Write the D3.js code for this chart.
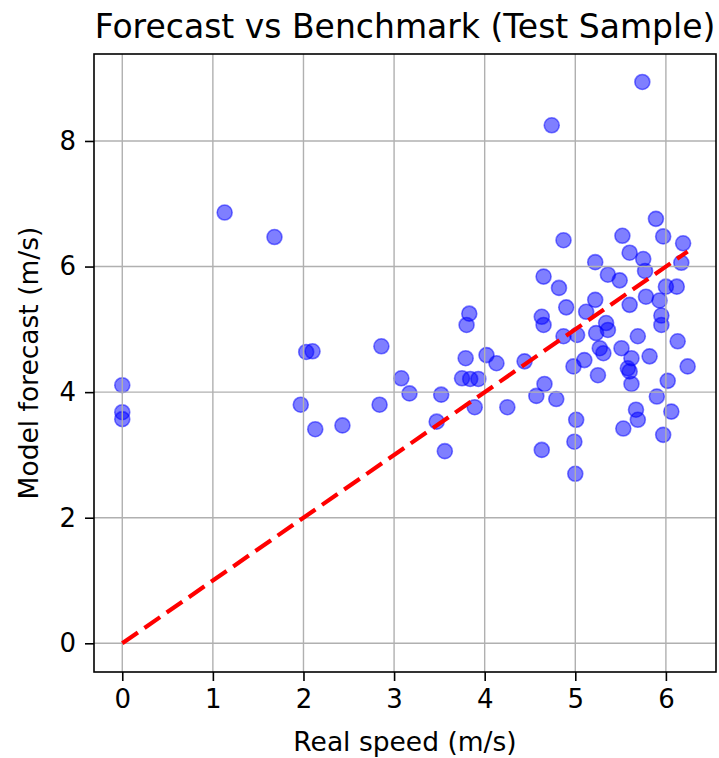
<!DOCTYPE html>
<html>
<head>
<meta charset="utf-8">
<script src="https://cdn.jsdelivr.net/npm/d3@7"></script>
<style>
  body { margin: 0; background: #fff; }
  text { font-family: "DejaVu Sans", sans-serif; fill: #000; }
</style>
</head>
<body>
<div id="chart"></div>
<script>
// values
const realSpeed = [
  0, 0, 0, 1.13, 1.68,
  1.97, 2.03, 2.10, 2.13, 2.43,
  2.84, 2.86, 3.08, 3.17,
  3.47, 3.52, 3.56,
  3.75, 3.79, 3.80, 3.83, 3.84, 3.89, 3.93,
  4.02, 4.13, 4.25, 4.44,
  4.57, 4.63, 4.63, 4.65, 4.65, 4.66, 4.74, 4.79, 4.82, 4.87, 4.87, 4.90,
  4.98, 4.99, 5.00, 5.01, 5.02,
  5.10, 5.12, 5.22, 5.22, 5.23, 5.25, 5.27, 5.31, 5.34, 5.36, 5.36,
  5.49, 5.51, 5.52, 5.53, 5.58, 5.60, 5.60, 5.60, 5.62, 5.62, 5.67, 5.69, 5.69, 5.74, 5.75, 5.77, 5.78, 5.82,
  5.89, 5.90, 5.93, 5.95, 5.95, 5.97, 5.97, 6.00, 6.02, 6.06, 6.12, 6.13, 6.17, 6.19, 6.24
];
const modelForecast = [
  4.11, 3.68, 3.57, 6.86, 6.47,
  3.80, 4.64, 4.65, 3.41, 3.47,
  3.80, 4.73, 4.22, 3.98,
  3.53, 3.96, 3.06,
  4.22, 4.54, 5.07, 5.25, 4.21, 3.76, 4.21,
  4.59, 4.46, 3.76, 4.49,
  3.94, 3.08, 5.20, 5.07, 5.84, 4.13, 8.25, 3.89, 5.66, 6.42, 4.89, 5.35,
  4.41, 3.21, 2.70, 3.56, 4.91,
  4.51, 5.28, 6.07, 5.47, 4.94, 4.27, 4.70, 4.62, 5.10, 4.99, 5.87,
  5.78, 4.70, 6.49, 3.42, 4.38, 4.33, 5.39, 6.22, 4.54, 4.13, 3.72, 3.56, 4.89, 8.94, 6.12, 5.93, 5.52, 4.57,
  6.76, 3.93, 5.46, 5.22, 5.07, 6.48, 3.32, 5.68, 4.18, 3.69, 5.68, 4.81, 6.06, 6.37, 4.41
];
const xTicks = [0, 1, 2, 3, 4, 5, 6];
const yTicks = [0, 2, 4, 6, 8];
const lineMax = d3.max(realSpeed);

const width = 719, height = 758;
const margin = { top: 54, left: 94, right: 3, bottom: 86 };

const svg = d3.select("#chart")
    .append("svg")
    .attr("width", width)
    .attr("height", height);

const xScale = d3.scaleLinear()
    .domain([-0.312, 6.553])
    .range([margin.left, width - margin.right]);

const yScale = d3.scaleLinear()
    .domain([-0.457, 9.385])
    .range([height - margin.bottom, margin.top]);

// points first, grid on top of them like matplotlib does
svg.append("g")
    .selectAll("circle")
    .data(realSpeed.map((d, i) => ({ x: d, y: modelForecast[i] })))
    .enter()
    .append("circle")
    .attr("cx", d => xScale(d.x))
    .attr("cy", d => yScale(d.y))
    .attr("r", 7.5)
    .attr("fill", "blue")
    .attr("fill-opacity", 0.5)
    .attr("stroke", "blue")
    .attr("stroke-opacity", 0.5)
    .attr("stroke-width", 1.6);

// grid
svg.append("g")
    .selectAll("line")
    .data(xTicks)
    .enter()
    .append("line")
    .attr("x1", d => xScale(d)).attr("x2", d => xScale(d))
    .attr("y1", margin.top).attr("y2", height - margin.bottom)
    .attr("stroke", "#b0b0b0").attr("stroke-width", 1.4);

svg.append("g")
    .selectAll("line")
    .data(yTicks)
    .enter()
    .append("line")
    .attr("y1", d => yScale(d)).attr("y2", d => yScale(d))
    .attr("x1", margin.left).attr("x2", width - margin.right)
    .attr("stroke", "#b0b0b0").attr("stroke-width", 1.4);

// 1:1 reference line
svg.append("line")
    .attr("x1", xScale(0)).attr("y1", yScale(0))
    .attr("x2", xScale(lineMax)).attr("y2", yScale(lineMax))
    .attr("stroke", "red")
    .attr("stroke-width", 4.2)
    .attr("stroke-dasharray", "19,8");

// axes
const xAxis = svg.append("g")
    .attr("transform", `translate(0,${height - margin.bottom})`)
    .call(d3.axisBottom(xScale).tickValues(xTicks).tickFormat(d3.format("d")).tickSize(9).tickPadding(9));

const yAxis = svg.append("g")
    .attr("transform", `translate(${margin.left},0)`)
    .call(d3.axisLeft(yScale).tickValues(yTicks).tickFormat(d3.format("d")).tickSize(9).tickPadding(9));

[xAxis, yAxis].forEach(a => {
    a.select(".domain").remove();
    a.selectAll(".tick line").attr("stroke", "#000").attr("stroke-width", 1.6);
    a.selectAll(".tick text").style("font-family", "DejaVu Sans").style("font-size", "26px");
});

// frame
svg.append("rect")
    .attr("x", margin.left)
    .attr("y", margin.top)
    .attr("width", width - margin.left - margin.right)
    .attr("height", height - margin.top - margin.bottom)
    .attr("fill", "none")
    .attr("stroke", "#000")
    .attr("stroke-width", 1.6);

// labels
svg.append("text")
    .attr("x", (margin.left + width - margin.right) / 2)
    .attr("y", 38)
    .attr("text-anchor", "middle")
    .style("font-size", "33px")
    .text("Forecast vs Benchmark (Test Sample)");

svg.append("text")
    .attr("x", (margin.left + width - margin.right) / 2)
    .attr("y", 751)
    .attr("text-anchor", "middle")
    .style("font-size", "26.5px")
    .text("Real speed (m/s)");

svg.append("text")
    .attr("transform", "rotate(-90)")
    .attr("x", -(margin.top + height - margin.bottom) / 2)
    .attr("y", 38)
    .attr("text-anchor", "middle")
    .style("font-size", "26.5px")
    .text("Model forecast (m/s)");
</script>
</body>
</html>
